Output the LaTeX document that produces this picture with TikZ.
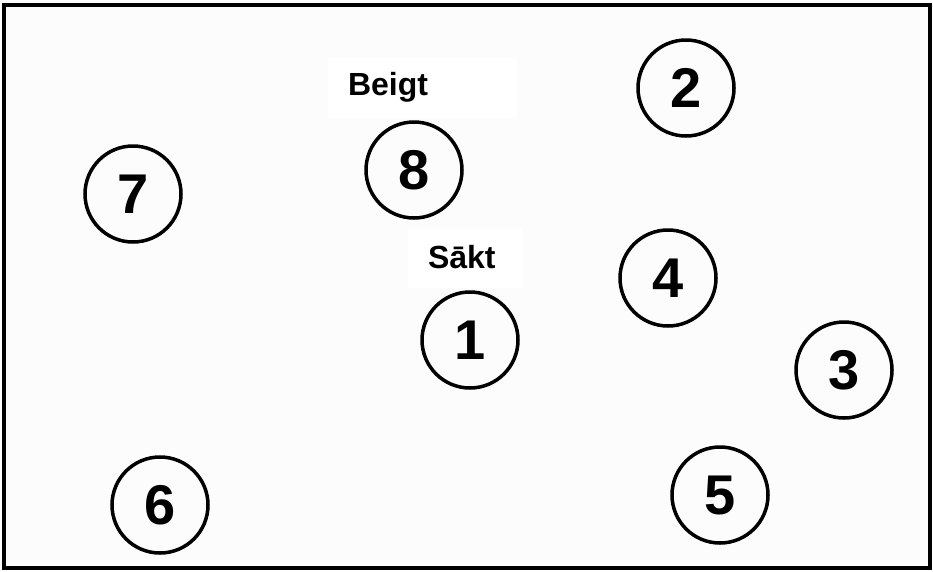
\documentclass[tikz,border=0pt]{standalone}
\usepackage{fontspec}
\setmainfont{Liberation Sans}
\definecolor{paper}{RGB}{252,252,252}
\tikzset{
  numcircle/.style={circle, draw, line width=3.5pt, minimum size=96pt, inner sep=0pt,
    font=\bfseries\fontsize{56}{60}\selectfont},
  labelbox/.style={fill=white, inner xsep=20pt, minimum height=60pt, align=left,
    font=\bfseries\fontsize{32}{36}\selectfont}
}
\begin{document}
\begin{tikzpicture}[x=1pt,y=-1pt]
\useasboundingbox (0,0) rectangle (933,571);
\fill[paper] (4,5) rectangle (929.5,567.5);
\draw[line width=4pt] (4,5) rectangle (929.5,567.5);
% numbered circles
\foreach \x/\y/\num in {470/340/1, 686/88/2, 844/370/3, 668/278/4, 720/495/5, 160/505/6, 133/194/7, 414/170/8} {
  \node[numcircle] (n\num) at (\x,\y) {\num};
}
% labels
\node[labelbox, text width=149pt] (beigt) at (422.5,87.5) {Beigt};
\node[labelbox, text width=74pt] (sakt) at (465,257.5) {Sākt};
\end{tikzpicture}
\end{document}
